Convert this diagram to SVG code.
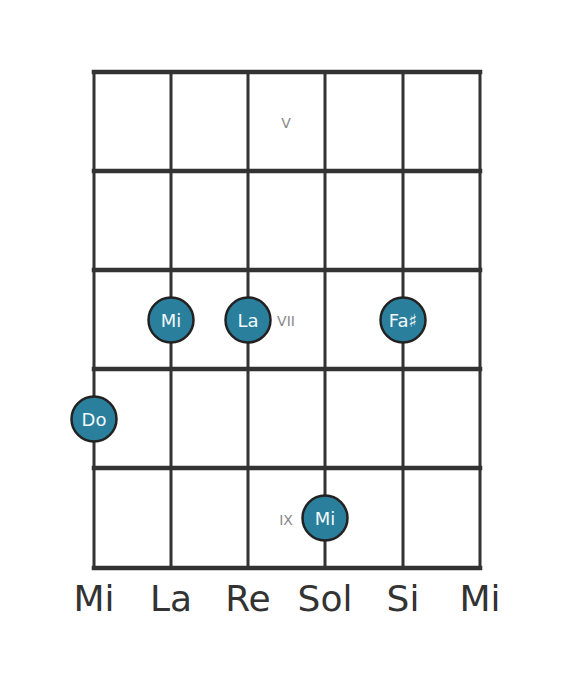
<svg xmlns="http://www.w3.org/2000/svg" width="568" height="682" viewBox="0 0 568 682">
<style>
.fret{stroke:#333;stroke-width:4.5;stroke-linecap:square}
.str{stroke:#333;stroke-width:3}
.dot{fill:#2a7f9c;stroke:#222;stroke-width:2.5}
.dl{font-family:"DejaVu Sans",sans-serif;font-size:18px;fill:#f2f8fa;text-anchor:middle;dominant-baseline:central}
.pos{font-family:"DejaVu Sans",sans-serif;font-size:14px;fill:#888;text-anchor:middle;dominant-baseline:central}
.sn{font-family:"DejaVu Sans",sans-serif;font-size:36px;fill:#333;text-anchor:middle}
</style>
<rect width="568" height="682" fill="#fff"/>
<g id="grid">
<line class="str" x1="94" y1="72" x2="94" y2="568"/>
<line class="str" x1="171" y1="72" x2="171" y2="568"/>
<line class="str" x1="248" y1="72" x2="248" y2="568"/>
<line class="str" x1="325" y1="72" x2="325" y2="568"/>
<line class="str" x1="403" y1="72" x2="403" y2="568"/>
<line class="str" x1="480" y1="72" x2="480" y2="568"/>
<line class="fret" x1="94" y1="72" x2="480" y2="72"/>
<line class="fret" x1="94" y1="171" x2="480" y2="171"/>
<line class="fret" x1="94" y1="270" x2="480" y2="270"/>
<line class="fret" x1="94" y1="369" x2="480" y2="369"/>
<line class="fret" x1="94" y1="468" x2="480" y2="468"/>
<line class="fret" x1="94" y1="568" x2="480" y2="568"/>
</g>
<g id="positions">
<text class="pos" x="286" y="123">V</text>
<text class="pos" x="286" y="321">VII</text>
<text class="pos" x="286" y="520">IX</text>
</g>
<g id="n1"><circle class="dot" cx="171" cy="320" r="22.5"/><text class="dl" x="171" y="320">Mi</text></g>
<g id="n2"><circle class="dot" cx="248" cy="320" r="22.5"/><text class="dl" x="248" y="320">La</text></g>
<g id="n3"><circle class="dot" cx="403" cy="320" r="22.5"/><text class="dl" x="403" y="320">Fa♯</text></g>
<g id="n4"><circle class="dot" cx="94" cy="419" r="22.5"/><text class="dl" x="94" y="419">Do</text></g>
<g id="n5"><circle class="dot" cx="325" cy="518" r="22.5"/><text class="dl" x="325" y="518">Mi</text></g>
<g id="strings">
<text class="sn" x="94" y="611">Mi</text>
<text class="sn" x="171" y="611">La</text>
<text class="sn" x="248" y="611">Re</text>
<text class="sn" x="325" y="611">Sol</text>
<text class="sn" x="403" y="611">Si</text>
<text class="sn" x="480" y="611">Mi</text>
</g>
</svg>
